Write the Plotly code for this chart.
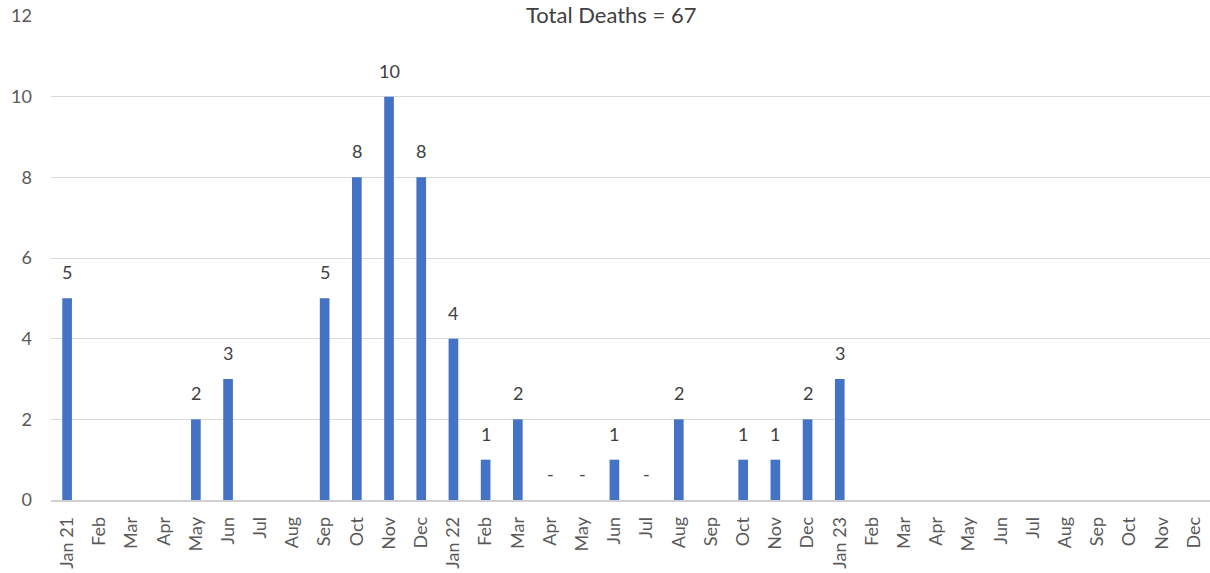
import plotly.graph_objects as go

month_labels = ["Jan 21", "Feb", "Mar", "Apr", "May", "Jun", "Jul", "Aug", "Sep", "Oct", "Nov", "Dec",
                "Jan 22", "Feb", "Mar", "Apr", "May", "Jun", "Jul", "Aug", "Sep", "Oct", "Nov", "Dec",
                "Jan 23", "Feb", "Mar", "Apr", "May", "Jun", "Jul", "Aug", "Sep", "Oct", "Nov", "Dec"]
deaths = [5, None, None, None, 2, 3, None, None, 5, 8, 10, 8,
          4, 1, 2, 0, 0, 1, 0, 2, None, 1, 1, 2,
          3, None, None, None, None, None, None, None, None, None, None, None]
title_text = "Total Deaths = 67"
y_ticks = [0, 2, 4, 6, 8, 10, 12]

x_pos = list(range(len(month_labels)))

FONT = "Lato, Carlito, Calibri, sans-serif"
BAR = "#4472C4"

fig = go.Figure()
fig.add_trace(go.Bar(
    x=x_pos, y=deaths,
    marker=dict(color=BAR, line=dict(width=0)),
    hoverinfo="skip",
))

for xi, v in zip(x_pos, deaths):
    if v is None:
        continue
    fig.add_annotation(
        x=xi, y=v, xref="x", yref="y",
        text=str(v) if v > 0 else "-",
        showarrow=False, yanchor="bottom", yshift=13,
        font=dict(family=FONT, size=18, color="#404040"),
    )

fig.add_annotation(
    x=0.5, y=1.0, xref="paper", yref="paper", yanchor="top", yshift=17,
    text=title_text, showarrow=False, xanchor="center", xshift=-20,
    font=dict(family=FONT, size=22, color="#404040"),
)

fig.update_layout(
    width=1210, height=573,
    margin=dict(l=51, r=0, t=16, b=73),
    paper_bgcolor="white", plot_bgcolor="white",
    bargap=0.7, showlegend=False,
    font=dict(family=FONT, color="#595959"),
)
fig.update_xaxes(
    tickmode="array", tickvals=x_pos, ticktext=month_labels,
    range=[-0.5, len(month_labels) - 0.5],
    tickangle=-90, tickfont=dict(size=18, color="#595959"),
    showgrid=False, showline=True, linecolor="#d0d0d0", linewidth=1.5,
    ticks="", zeroline=False, ticklabelstandoff=8,
)
fig.update_yaxes(
    range=[0, 12], tickvals=y_ticks,
    tickfont=dict(size=18, color="#595959"),
    showgrid=True, gridcolor="#d9d9d9", gridwidth=1,
    zeroline=False, showline=False, ticks="", ticklabelstandoff=18,
)

fig.write_html("out.html", config={"displayModeBar": False},
               post_script="document.body.style.margin='0';")
